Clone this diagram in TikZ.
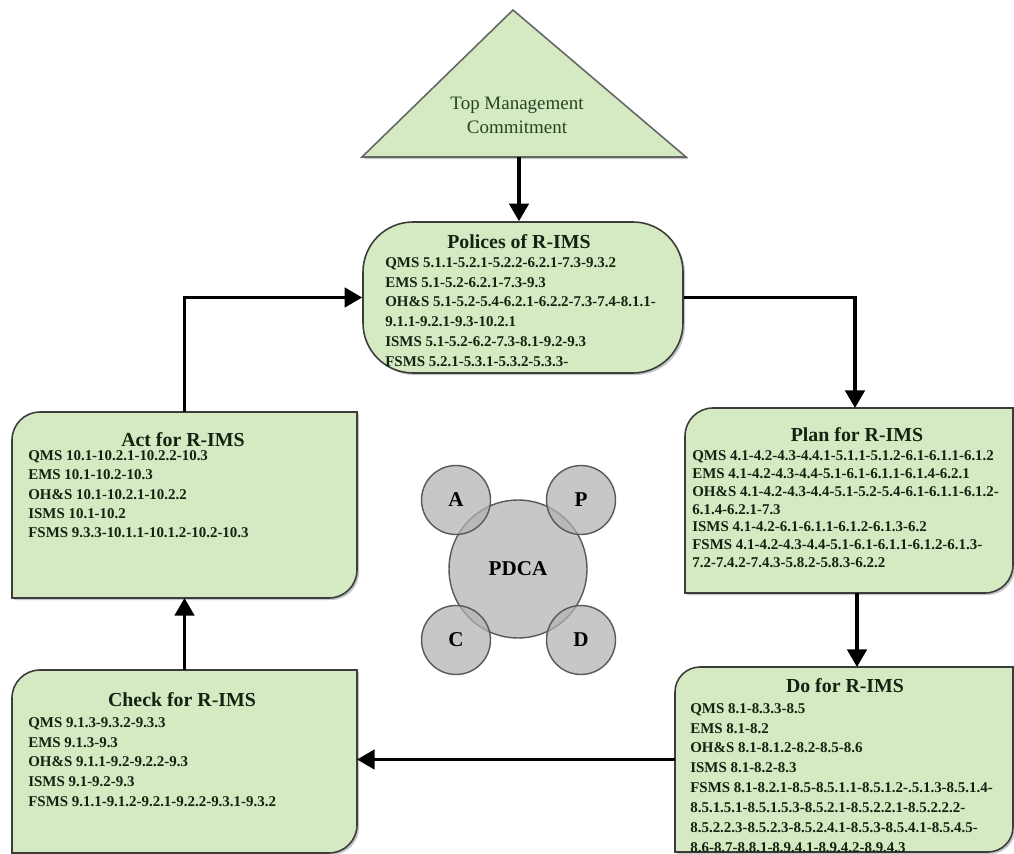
\documentclass[tikz,border=0pt]{standalone}
\usepackage{fontspec}
\setmainfont{Liberation Serif}
\usetikzlibrary{arrows.meta,calc,shadows,fit}
\definecolor{boxgreen}{RGB}{213,234,195}
\definecolor{boxline}{RGB}{60,60,60}
\definecolor{txtdark}{RGB}{20,34,16}
\definecolor{tritxt}{RGB}{40,68,36}
\tikzset{
  arr/.style={line width=2pt, -{Triangle[width=11pt,length=10pt]}},
  boxshape/.style={draw=boxline, line width=0.9pt, fill=boxgreen,
    drop shadow={shadow xshift=1.2pt, shadow yshift=-1.2pt, opacity=0.45}},
  boxarea/.style={inner sep=0, outer sep=0},
  titletext/.style={font=\fontsize{11.3}{13}\selectfont\bfseries, text=txtdark, inner sep=0},
  bodytext/.style={font=\fontsize{8.5}{#1}\selectfont\bfseries, text=txtdark, align=left, anchor=north west, inner sep=0},
  circ/.style={circle, draw=black!65, line width=0.8pt, fill=black!30, fill opacity=0.72,
    text opacity=1, inner sep=0, font=\fontsize{12}{14}\selectfont\bfseries},
}
\newcommand\rdbox[6]{% name, x1, y1, x2, y2, radius
  \node[boxarea, fit={(#2,#3) (#4,#5)}] (#1) {};
  \draw[boxshape] (#1.south west) -- ([yshift=-#6]#1.north west)
    arc[start angle=180, end angle=90, radius=#6] -- (#1.north east)
    -- ([yshift=#6]#1.south east) arc[start angle=0, end angle=-90, radius=#6] -- cycle;
}
\begin{document}
\begin{tikzpicture}[x=0.02cm, y=-0.02cm]
\useasboundingbox (0,0) rectangle (1014,854);

% triangle
\coordinate (tritop) at (513,10);
\coordinate (trileft) at (362,157);
\coordinate (triright) at (686,157);
\coordinate (tribase) at (519,157);
\draw[boxshape, draw=black!60] (trileft) -- (tritop) -- (triright) -- cycle;
\node[font=\fontsize{10.8}{13.6}\selectfont, text=tritxt, align=center, inner sep=0] (tri) at (517,115) {Top Management\\Commitment};

% policies
\node[draw=boxline, line width=0.9pt, fill=boxgreen, rounded corners=1cm, inner sep=0,
  fit={(363,222) (683,373)},
  drop shadow={shadow xshift=1.2pt, shadow yshift=-1.2pt, opacity=0.45}] (pol) {};
\node[titletext] (polt) at (519,242) {Polices of R-IMS};
\node[bodytext=11.3pt] (polb) at (385,257) {QMS 5.1.1-5.2.1-5.2.2-6.2.1-7.3-9.3.2\\
EMS 5.1-5.2-6.2.1-7.3-9.3\\
OH\&S 5.1-5.2-5.4-6.2.1-6.2.2-7.3-7.4-8.1.1-\\
9.1.1-9.2.1-9.3-10.2.1\\
ISMS 5.1-5.2-6.2-7.3-8.1-9.2-9.3\\
FSMS 5.2.1-5.3.1-5.3.2-5.3.3-};

% plan
\rdbox{plan}{685}{408}{1013}{593}{0.56cm}
\node[titletext] (plant) at (857,435) {Plan for R-IMS};
\node[bodytext=10.2pt] (planb) at (692,450) {QMS 4.1-4.2-4.3-4.4.1-5.1.1-5.1.2-6.1-6.1.1-6.1.2\\
EMS 4.1-4.2-4.3-4.4-5.1-6.1-6.1.1-6.1.4-6.2.1\\
OH\&S 4.1-4.2-4.3-4.4-5.1-5.2-5.4-6.1-6.1.1-6.1.2-\\
6.1.4-6.2.1-7.3\\
ISMS 4.1-4.2-6.1-6.1.1-6.1.2-6.1.3-6.2\\
FSMS 4.1-4.2-4.3-4.4-5.1-6.1-6.1.1-6.1.2-6.1.3-\\
7.2-7.4.2-7.4.3-5.8.2-5.8.3-6.2.2};

% do
\rdbox{do}{675}{667}{1013}{852}{0.5cm}
\node[titletext] (dot) at (845,686) {Do for R-IMS};
\node[bodytext=11.3pt] (dob) at (690,703) {QMS 8.1-8.3.3-8.5\\
EMS 8.1-8.2\\
OH\&S 8.1-8.1.2-8.2-8.5-8.6\\
ISMS 8.1-8.2-8.3\\
FSMS 8.1-8.2.1-8.5-8.5.1.1-8.5.1.2-.5.1.3-8.5.1.4-\\
8.5.1.5.1-8.5.1.5.3-8.5.2.1-8.5.2.2.1-8.5.2.2.2-\\
8.5.2.2.3-8.5.2.3-8.5.2.4.1-8.5.3-8.5.4.1-8.5.4.5-\\
8.6-8.7-8.8.1-8.9.4.1-8.9.4.2-8.9.4.3};

% check
\rdbox{check}{12}{670}{357}{853}{0.56cm}
\node[titletext] (checkt) at (182,700) {Check for R-IMS};
\node[bodytext=11.3pt] (checkb) at (28,717) {QMS 9.1.3-9.3.2-9.3.3\\
EMS 9.1.3-9.3\\
OH\&S 9.1.1-9.2-9.2.2-9.3\\
ISMS 9.1-9.2-9.3\\
FSMS 9.1.1-9.1.2-9.2.1-9.2.2-9.3.1-9.3.2};

% act
\rdbox{act}{12}{412}{357}{598}{0.56cm}
\node[titletext] (actt) at (183,440) {Act for R-IMS};
\node[bodytext=11.05pt] (actb) at (28,450) {QMS 10.1-10.2.1-10.2.2-10.3\\
EMS 10.1-10.2-10.3\\
OH\&S 10.1-10.2.1-10.2.2\\
ISMS 10.1-10.2\\
FSMS 9.3.3-10.1.1-10.1.2-10.2-10.3};

% PDCA circles
\node[circ, minimum size=2.76cm] (pdca) at (518,569) {PDCA};
\node[circ, minimum size=1.38cm] (ca) at (456,500) {A};
\node[circ, minimum size=1.38cm] (cp) at (581,500) {P};
\node[circ, minimum size=1.38cm] (cc) at (456,640) {C};
\node[circ, minimum size=1.38cm] (cd) at (581,640) {D};

% connectors
\draw[arr] (tribase) -- (tribase |- pol.north);
\coordinate (pk) at ($(plan.north)+(6,0)$);
\draw[arr] (pol.east) -| (pk);
\coordinate (p1) at ($(plan.south)+(8,0)$);
\draw[arr] (p1) -- (p1 |- do.north);
\draw[arr] (do.west) -- (do.west -| check.east);
\draw[arr] (check.north) -- (act.south);
\draw[arr] (act.north) |- (pol.west);
\end{tikzpicture}
\end{document}
